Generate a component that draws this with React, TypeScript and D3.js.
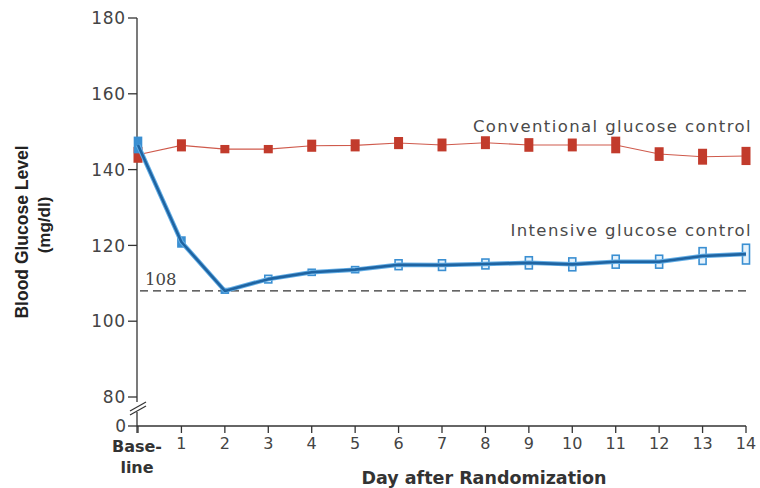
import React from "react";
import * as d3 from "d3";

const days = [0, 1, 2, 3, 4, 5, 6, 7, 8, 9, 10, 11, 12, 13, 14];
const dayLabels = ["Base-", "1", "2", "3", "4", "5", "6", "7", "8", "9", "10", "11", "12", "13", "14"];
const yTicks = [80, 100, 120, 140, 160, 180];
const conventional = [143.9, 146.4, 145.4, 145.4, 146.3, 146.4, 147.0, 146.5, 147.1, 146.5, 146.5, 146.5, 144.1, 143.4, 143.6];
const conventionalErr = [2.1, 1.6, 1.1, 1.1, 1.6, 1.6, 1.6, 1.7, 1.7, 1.8, 1.7, 2.2, 1.8, 2.1, 2.4];
const intensive = [146.5, 120.9, 108.0, 111.1, 112.9, 113.6, 114.9, 114.8, 115.1, 115.4, 115.0, 115.7, 115.7, 117.2, 117.7];
const intensiveErr = [2.0, 1.3, 0.6, 1.0, 0.8, 0.8, 1.3, 1.4, 1.3, 1.6, 1.7, 1.7, 1.7, 2.2, 2.6];
const targetValue = 108;

const W = 760;
const H = 488;
const left = 137;
const right = 746;
const top = 18;
const axisY = 426;

export default function App() {
  const x = d3.scaleLinear().domain([0, 14]).range([left + 1, right]);
  const y = d3.scaleLinear().domain([80, 180]).range([397, top]);

  const line = d3
    .line<number>()
    .x((_, i) => x(days[i]))
    .y((d) => y(d));

  const tickFont = "'DejaVu Sans', sans-serif";
  const textCol = "#444";

  return (
    <svg width={W} height={H} style={{ position: "absolute", left: 0, top: 0, background: "#fff" }}>
      {/* y axis */}
      <line x1={left} x2={left} y1={top} y2={axisY + 7} stroke="#333" strokeWidth={1.3} />
      {yTicks.map((t) => (
        <g key={t}>
          <line x1={left - 9} x2={left} y1={y(t)} y2={y(t)} stroke="#333" strokeWidth={1.3} />
          <text x={left - 11} y={y(t)} dy="0.36em" textAnchor="end" fontFamily={tickFont} fontSize={17} fill={textCol} letterSpacing={0.8}>
            {t}
          </text>
        </g>
      ))}
      {/* zero tick */}
      <line x1={left - 9} x2={left} y1={axisY} y2={axisY} stroke="#333" strokeWidth={1.3} />
      <text x={left - 11} y={axisY} dy="0.36em" textAnchor="end" fontFamily={tickFont} fontSize={17} fill={textCol}>
        0
      </text>
      {/* break marks */}
      <rect x={left - 3} y={402} width={6} height={10} fill="#fff" />
      <line x1={left - 7} x2={left + 9} y1={411} y2={402} stroke="#333" strokeWidth={1.2} />
      <line x1={left - 7} x2={left + 9} y1={415} y2={406} stroke="#333" strokeWidth={1.2} />

      {/* x axis */}
      <line x1={left} x2={right} y1={axisY} y2={axisY} stroke="#333" strokeWidth={1.3} />
      {days.map((d, i) => (
        <g key={d}>
          <line x1={x(d)} x2={x(d)} y1={axisY} y2={axisY + 7} stroke="#333" strokeWidth={1.3} />
          {i === 0 ? (
            <text x={x(d) - 2} y={452} textAnchor="middle" fontFamily={tickFont} fontWeight="bold" fontSize={16} fill="#333">
              <tspan x={x(d) - 1}>{dayLabels[i]}</tspan>
              <tspan x={x(d) - 1} dy={21}>line</tspan>
            </text>
          ) : (
            <text x={x(d)} y={449} textAnchor="middle" fontFamily={tickFont} fontSize={16} fill={textCol}>
              {dayLabels[i]}
            </text>
          )}
        </g>
      ))}

      {/* target dashed line */}
      <line x1={left + 3} x2={right} y1={y(targetValue)} y2={y(targetValue)} stroke="#333" strokeWidth={1.2} strokeDasharray="8,5" />
      <text x={145} y={y(targetValue) - 6} fontFamily="'DejaVu Serif', serif" fontSize={16.5} fill={textCol}>
        {targetValue}
      </text>

      {/* conventional */}
      <path d={line(conventional) || ""} fill="none" stroke="#cf5a4c" strokeWidth={1.1} />
      {conventional.map((v, i) => (
        <rect
          key={i}
          x={x(days[i]) - 4.5}
          y={y(v + conventionalErr[i])}
          width={9}
          height={y(v - conventionalErr[i]) - y(v + conventionalErr[i])}
          fill="#c23b2c"
        />
      ))}

      {/* intensive */}
      {intensive.map((v, i) => (
        <rect
          key={i}
          x={x(days[i]) - 3.5}
          y={y(v + intensiveErr[i])}
          width={7}
          height={Math.max(4, y(v - intensiveErr[i]) - y(v + intensiveErr[i]))}
          fill={i < 3 ? "#3a8fd2" : "#e6f2fb"}
          stroke="#3a8fd2"
          strokeWidth={1.6}
        />
      ))}
      <path d={line(intensive) || ""} fill="none" stroke="#63aee6" strokeWidth={4.5} strokeLinejoin="round" />
      <path d={line(intensive) || ""} fill="none" stroke="#1f64a2" strokeWidth={2.6} strokeLinejoin="round" />

      {/* series labels */}
      <text x={752} y={132} textAnchor="end" fontFamily={tickFont} fontSize={16.5} fill="#4a4a4a" letterSpacing={1.4}>
        Conventional glucose control
      </text>
      <text x={752} y={236} textAnchor="end" fontFamily={tickFont} fontSize={16.5} fill="#4a4a4a" letterSpacing={1.4}>
        Intensive glucose control
      </text>

      {/* axis titles */}
      <text transform="translate(28,232) rotate(-90)" textAnchor="middle" fontFamily="'Liberation Sans', Arial, sans-serif" fontWeight="bold" fontSize={17.5} fill="#222">
        Blood Glucose Level
      </text>
      <text transform="translate(50,225) rotate(-90)" textAnchor="middle" fontFamily="'Liberation Sans', Arial, sans-serif" fontWeight="bold" fontSize={17} fill="#222">
        (mg/dl)
      </text>
      <text x={484} y={484} textAnchor="middle" fontFamily={tickFont} fontWeight="bold" fontSize={17.5} fill="#333">
        Day after Randomization
      </text>
    </svg>
  );
}
